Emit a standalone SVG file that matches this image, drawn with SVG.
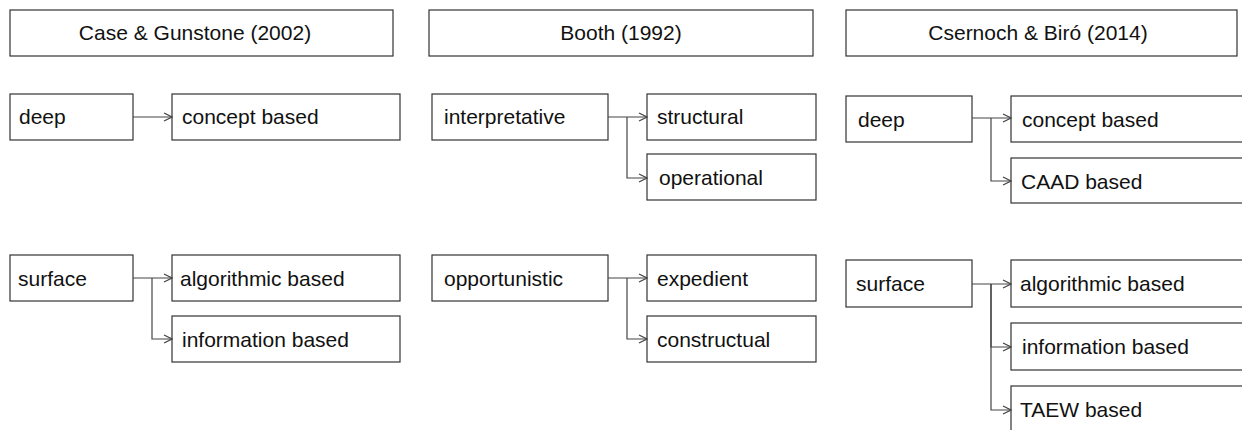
<svg xmlns="http://www.w3.org/2000/svg" width="1242" height="430" viewBox="0 0 1242 430">
<style>
rect{fill:#fff;stroke:#333;stroke-width:1.2}
text{font-family:"Liberation Sans",Arial,sans-serif;font-size:21px;fill:#111}
.h{text-anchor:middle}
#connectors path{fill:none;stroke:#444;stroke-width:1.2;marker-end:url(#a)}
</style>
<defs>
<marker id="a" markerUnits="userSpaceOnUse" markerWidth="10" markerHeight="10" refX="9" refY="5" orient="auto">
<path d="M1,1 L9,5 L1,9" fill="none" stroke="#444" stroke-width="1.2"/>
</marker>
</defs>
<g id="h1"><rect x="10" y="10" width="383" height="46"/><text class="h" x="195" y="40">Case &amp; Gunstone (2002)</text></g>
<g id="h2"><rect x="429" y="10" width="384" height="46"/><text class="h" x="621" y="40">Booth (1992)</text></g>
<g id="h3"><rect x="846" y="10" width="391" height="46"/><text class="h" x="1038" y="40">Csernoch &amp; Biró (2014)</text></g>

<g id="c1deep"><rect x="10" y="94" width="123" height="46"/><text x="19" y="124">deep</text></g>
<g id="c1concept"><rect x="172" y="94" width="228" height="46"/><text x="182" y="124">concept based</text></g>
<g id="c1surface"><rect x="10" y="255" width="123" height="46"/><text x="18" y="286">surface</text></g>
<g id="c1algo"><rect x="172" y="255" width="228" height="46"/><text x="180" y="286">algorithmic based</text></g>
<g id="c1info"><rect x="172" y="316" width="228" height="46"/><text x="182" y="347">information based</text></g>

<g id="c2interp"><rect x="432" y="94" width="176" height="46"/><text x="444" y="124">interpretative</text></g>
<g id="c2struct"><rect x="647" y="94" width="169" height="46"/><text x="657" y="124">structural</text></g>
<g id="c2oper"><rect x="647" y="154" width="169" height="46"/><text x="659" y="185">operational</text></g>
<g id="c2opp"><rect x="432" y="255" width="176" height="46"/><text x="444" y="286">opportunistic</text></g>
<g id="c2exp"><rect x="647" y="255" width="169" height="46"/><text x="657" y="286">expedient</text></g>
<g id="c2constr"><rect x="647" y="316" width="169" height="46"/><text x="657" y="347">constructual</text></g>

<g id="c3deep"><rect x="846" y="96" width="126" height="46"/><text x="858" y="127">deep</text></g>
<g id="c3concept"><rect x="1011" y="96" width="240" height="46"/><text x="1022" y="127">concept based</text></g>
<g id="c3caad"><rect x="1011" y="158" width="240" height="45"/><text x="1021" y="189">CAAD based</text></g>
<g id="c3surface"><rect x="846" y="260" width="126" height="47"/><text x="856" y="291">surface</text></g>
<g id="c3algo"><rect x="1011" y="260" width="240" height="47"/><text x="1020" y="291">algorithmic based</text></g>
<g id="c3info"><rect x="1011" y="323" width="240" height="47"/><text x="1022" y="354">information based</text></g>
<g id="c3taew"><rect x="1011" y="386" width="240" height="60"/><text x="1020" y="417">TAEW based</text></g>

<g id="connectors">
<path d="M133,117 H172"/>
<path d="M133,278 H172"/>
<path d="M152,278 V339 H172"/>
<path d="M608,117 H647"/>
<path d="M627,117 V178 H647"/>
<path d="M608,278 H647"/>
<path d="M627,278 V339 H647"/>
<path d="M972,118 H1011"/>
<path d="M991,118 V181 H1011"/>
<path d="M972,284 H1011"/>
<path d="M991,284 V347 H1011"/>
<path d="M991,284 V410 H1011"/>
</g>
</svg>
